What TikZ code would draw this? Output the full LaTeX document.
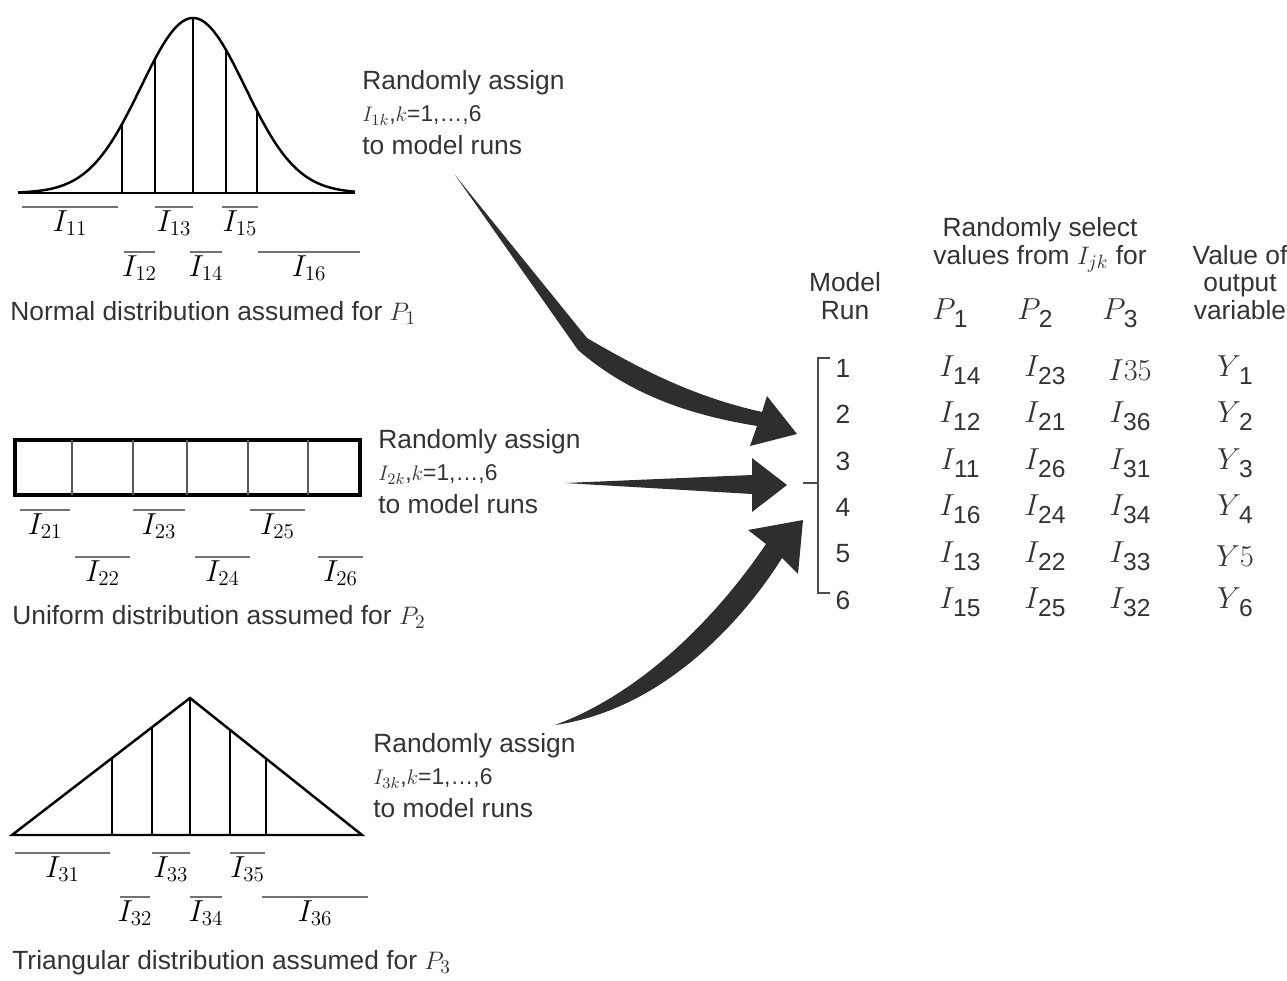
\documentclass[tikz,border=0pt]{standalone}
\usepackage{fontspec}
\setmainfont{Liberation Sans}
\usetikzlibrary{arrows.meta,positioning,calc}

\tikzset{
  lbl/.style={font=\fontsize{15}{18}\selectfont, text=black!80, inner sep=0pt},
  ilbl/.style={font=\fontsize{17}{18}\selectfont, inner sep=0pt},
  note/.style={lbl, align=left, anchor=north west, font=\fontsize{15}{18.5}\selectfont},
  head/.style={lbl, align=center, anchor=base, font=\fontsize{15}{15.6}\selectfont},
  cell/.style={lbl, font=\fontsize{17}{18}\selectfont},
  span/.style={black!55, line width=0.6pt},
  outline/.style={line width=1.4pt},
  cut/.style={line width=0.8pt},
  fatarrow/.style={fill=black!82, draw=none},
}

% interval bar with its label: name, x1, x2, y, text
\newcommand{\ival}[5]{%
  \draw[span] (#2,#4) -- (#3,#4);
  \node[ilbl, anchor=north] (#1) at ({(#2+#3)/2},{#4+3}) {$#5$};}
% table entry: italic letter with an upright index
\newcommand{\sub}[2]{$#1$\kern-1pt\raisebox{-0.5ex}{\fontsize{14}{14}\selectfont #2}}

\begin{document}
\begin{tikzpicture}[x=0.02cm, y=-0.02cm]
    \useasboundingbox (0,0) rectangle (1287,980);

    % Normal distribution for P1
    \draw[outline] (18,193) -- (355,193);
    \draw[outline] plot[domain=18:355, samples=120] (\x, {193-175*exp(-((\x-193)/52)^2/2)});
    \foreach \v in {122,155,193,226,257}
      \draw[cut] (\v,193) -- (\v,{193-175*exp(-((\v-193)/52)^2/2)});
    \ival{i11}{22}{118}{207}{I_{11}}
    \ival{i13}{155}{193}{207}{I_{13}}
    \ival{i15}{222}{258}{207}{I_{15}}
    \ival{i12}{124}{155}{252}{I_{12}}
    \ival{i14}{190}{222}{252}{I_{14}}
    \ival{i16}{258}{360}{252}{I_{16}}
    \node[lbl, anchor=west] (normcap) at (10,313) {Normal distribution assumed for $P_1$};
    \node[note] (assignA) at (362,70) {Randomly assign\\{\fontsize{13}{15}\selectfont$I_{1k}$,$k$=1,\dots,6}\\to model runs};

    % Uniform distribution for P2
    \draw[line width=1.8pt] (15,440) rectangle (360,495);
    \foreach \v in {72,133,187,248,308}
      \draw[cut, black!65] (\v,440) -- (\v,495);
    \ival{i21}{20}{70}{510}{I_{21}}
    \ival{i23}{133}{185}{510}{I_{23}}
    \ival{i25}{250}{305}{510}{I_{25}}
    \ival{i22}{75}{130}{557}{I_{22}}
    \ival{i24}{195}{250}{557}{I_{24}}
    \ival{i26}{318}{363}{557}{I_{26}}
    \node[lbl, anchor=west] (unicap) at (12,617) {Uniform distribution assumed for $P_2$};
    \node[note] (assignB) at (378,429) {Randomly assign\\{\fontsize{13}{15}\selectfont$I_{2k}$,$k$=1,\dots,6}\\to model runs};

    % Triangular distribution for P3
    \draw[outline] (12,835) -- (190,698) -- (362,835) -- cycle;
    \foreach \v/\h in {112/758,152/727,190/698,230/730,266/758}
      \draw[cut] (\v,835) -- (\v,\h);
    \ival{i31}{15}{110}{853}{I_{31}}
    \ival{i33}{152}{190}{853}{I_{33}}
    \ival{i35}{230}{265}{853}{I_{35}}
    \ival{i32}{120}{150}{897}{I_{32}}
    \ival{i34}{190}{222}{897}{I_{34}}
    \ival{i36}{262}{368}{897}{I_{36}}
    \node[lbl, anchor=west] (tricap) at (12,963) {Triangular distribution assumed for $P_3$};
    \node[note] (assignC) at (373,733) {Randomly assign\\{\fontsize{13}{15}\selectfont$I_{3k}$,$k$=1,\dots,6}\\to model runs};

    % Fat arrows into the model runs
    \coordinate (tipA) at (797,434);
    \coordinate (tipB) at (787,485);
    \coordinate (tipC) at (803,520);
    \fill[fatarrow] (455,175) -- (587,338) .. controls (650,375) and (700,398) .. (762,412)
      -- (767,396) -- (tipA) -- (750,446) -- (757,426)
      .. controls (690,415) and (630,395) .. (578,350) -- cycle;
    \fill[fatarrow] (565,483) -- (752,475) -- (752,458) -- (tipB) -- (752,512) -- (752,494) -- cycle;
    \fill[fatarrow] (555,725) .. controls (650,690) and (725,605) .. (766,544)
      -- (748,530) -- (tipC) -- (798,574) -- (782,558)
      .. controls (740,625) and (660,710) .. (555,725) -- cycle;

    % Bracket of model runs
    \coordinate (runs) at (818,483);
    \draw[black!70, line width=0.8pt] (830,358) -| (818,593) -- (830,593);
    \draw[black!70, line width=0.8pt] (803,483) -- (runs);

    % Table heads
    \node[head] (model) at (845,319) {Model\\Run};
    \node[head] (select) at (1040,264) {Randomly select\\values from $I_{jk}$ for};
    \node[head] (output) at (1240,319) {Value of\\output\\variable};
    \node[cell] (p1) at (950,313) {\sub{P}{1}};
    \node[cell] (p2) at (1035,313) {\sub{P}{2}};
    \node[cell] (p3) at (1120,313) {\sub{P}{3}};

    % Table rows
    \foreach \a/\b/\c/\y [count=\i] in {
        \sub{I}{14}/\sub{I}{23}/$I35$/\sub{Y}{1},
        \sub{I}{12}/\sub{I}{21}/\sub{I}{36}/\sub{Y}{2},
        \sub{I}{11}/\sub{I}{26}/\sub{I}{31}/\sub{Y}{3},
        \sub{I}{16}/\sub{I}{24}/\sub{I}{34}/\sub{Y}{4},
        \sub{I}{13}/\sub{I}{22}/\sub{I}{33}/$Y5$,
        \sub{I}{15}/\sub{I}{25}/\sub{I}{32}/\sub{Y}{6}} {
      \node[lbl] (n\i) at (843,{368+46.5*(\i-1)}) {\i};
      \node[cell] (a\i) at (960,{370+46.5*(\i-1)}) {\a};
      \node[cell] (b\i) at (1045,{370+46.5*(\i-1)}) {\b};
      \node[cell] (c\i) at (1130,{370+46.5*(\i-1)}) {\c};
      \node[cell] (y\i) at (1235,{370+46.5*(\i-1)}) {\y};
    }
\end{tikzpicture}
\end{document}
